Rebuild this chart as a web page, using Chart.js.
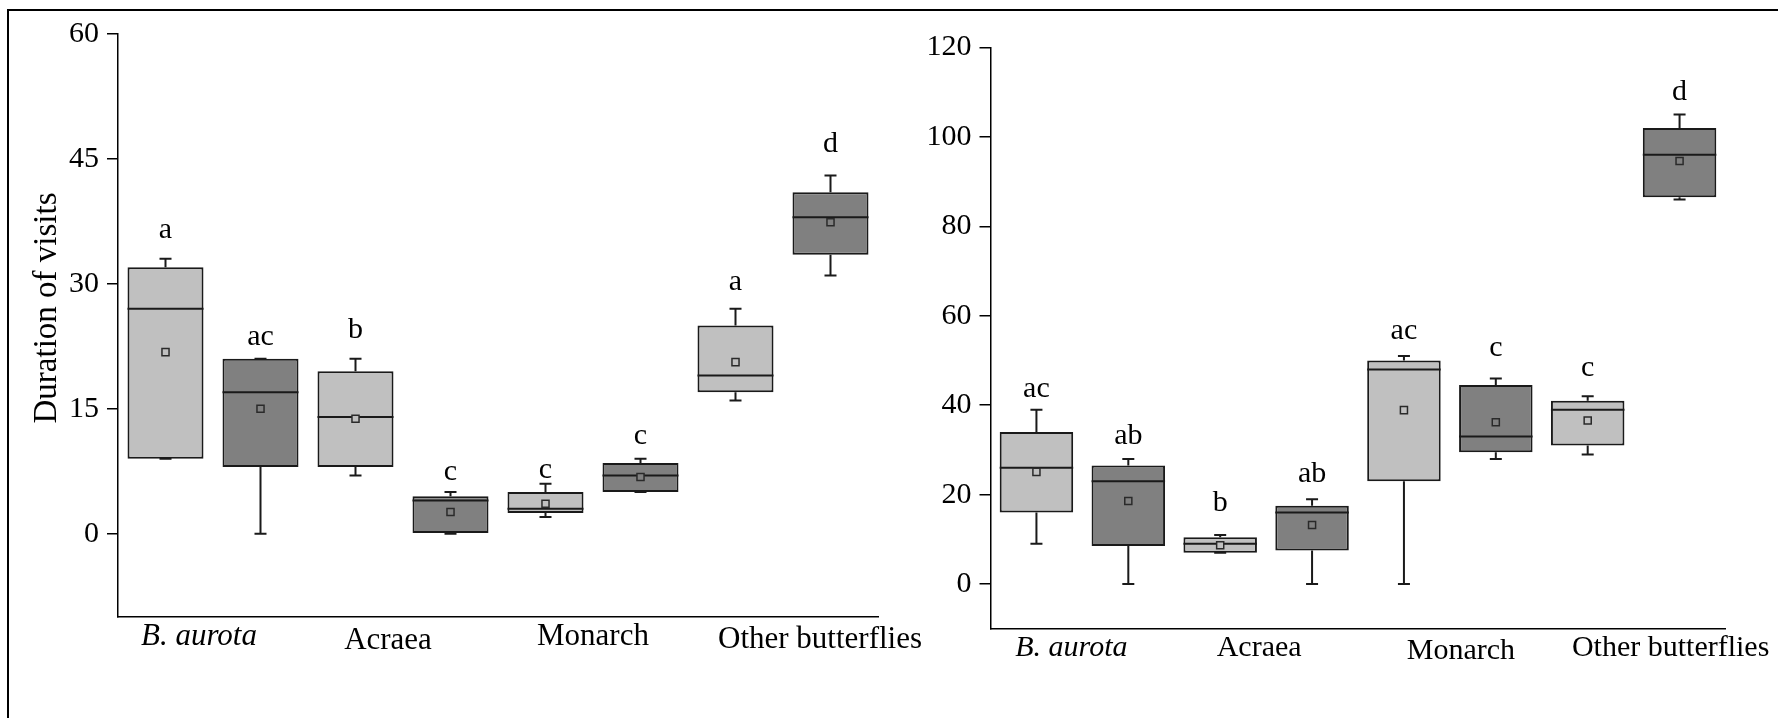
<!DOCTYPE html>
<html>
<head>
<meta charset="utf-8">
<script src="https://cdn.jsdelivr.net/npm/chart.js@4/dist/chart.umd.min.js"></script>
<style>
html, body { margin: 0; padding: 0; background: #fff; }
#wrap { position: relative; width: 1778px; height: 718px; overflow: hidden; background: #fff; }
#frame { position: absolute; left: 7px; top: 9px; width: 1771px; height: 709px; border-left: 2px solid #000; border-top: 2px solid #000; box-sizing: border-box; }
canvas { position: absolute; top: 0; }
</style>
</head>
<body>
<div id="wrap">
  <div id="frame"></div>
  <canvas id="leftChart" width="930" height="718" style="left:0px"></canvas>
  <canvas id="rightChart" width="898" height="718" style="left:880px"></canvas>
</div>
<script>
// ---------- DATA ----------
const categories = ['B. aurota 1', 'B. aurota 2', 'Acraea 1', 'Acraea 2', 'Monarch 1', 'Monarch 2', 'Other butterflies 1', 'Other butterflies 2'];
const groupLabels = ['B. aurota', 'Acraea', 'Monarch', 'Other butterflies'];
const yTitle = 'Duration of visits';

// Left panel
const leftMin    = [9, 0, 7, 0, 2, 5, 16, 31];
const leftQ1     = [9, 8, 8, 0, 2.5, 5, 17, 33.5];
const leftMedian = [27, 17, 14, 4, 3, 7, 19, 38];
const leftQ3     = [32, 21, 19.5, 4.5, 5, 8.5, 25, 41];
const leftMax    = [33, 21, 21, 5, 6, 9, 27, 43];
const leftMean   = [21.8, 15, 13.8, 2.6, 3.6, 6.8, 20.6, 37.4];
const leftLetters = ['a', 'ac', 'b', 'c', 'c', 'c', 'a', 'd'];
const leftTicks  = [0, 15, 30, 45, 60];

// Right panel
const rightMin    = [9, 0, 7, 0, 0, 28, 29, 86];
const rightQ1     = [16, 8.5, 7, 7.5, 23, 29.5, 31, 86.5];
const rightMedian = [26, 23, 9, 16, 48, 33, 39, 96];
const rightQ3     = [34, 26.5, 10.5, 17.5, 50, 44.5, 41, 102];
const rightMax    = [39, 28, 11, 19, 51, 46, 42, 105];
const rightMean   = [25.1, 18.6, 8.7, 13.2, 38.9, 36.2, 36.6, 94.6];
const rightLetters = ['ac', 'ab', 'b', 'ab', 'ac', 'c', 'c', 'd'];
const rightTicks  = [0, 20, 40, 60, 80, 100, 120];

// ---------- STYLE ----------
const LIGHT = '#c0c0c0', DARK = '#808080', INK = '#1a1a1a';
const FONT = "'Liberation Serif', 'Times New Roman', serif";
Chart.defaults.font.family = FONT;
Chart.defaults.font.size = 30;
Chart.defaults.color = '#000';
const colorFor = i => (i % 2 === 0 ? LIGHT : DARK);

const boxPlugin = {
  id: 'boxExtras',
  beforeDatasetsDraw(chart, args, o) {
    const ctx = chart.ctx, y = chart.scales.y;
    const meta = chart.getDatasetMeta(0);
    ctx.save();
    ctx.strokeStyle = INK;
    ctx.lineWidth = 2;
    meta.data.forEach((bar, i) => {
      const x = bar.x;
      const [q1, q3] = chart.data.datasets[0].data[i];
      const pMax = y.getPixelForValue(o.max[i]);
      const pMin = y.getPixelForValue(o.min[i]);
      ctx.beginPath();
      ctx.moveTo(x, y.getPixelForValue(q3)); ctx.lineTo(x, pMax);
      ctx.moveTo(x, y.getPixelForValue(q1)); ctx.lineTo(x, pMin);
      ctx.moveTo(x - 6, pMax); ctx.lineTo(x + 6, pMax);
      ctx.moveTo(x - 6, pMin); ctx.lineTo(x + 6, pMin);
      ctx.stroke();
    });
    ctx.restore();
  },
  afterDatasetDraw(chart, args, o) {
    if (args.index !== 0) return;
    const ctx = chart.ctx, y = chart.scales.y;
    ctx.save();
    ctx.strokeStyle = INK;
    ctx.lineWidth = 2;
    args.meta.data.forEach((bar, i) => {
      const py = y.getPixelForValue(o.median[i]);
      ctx.beginPath();
      ctx.moveTo(bar.x - bar.width / 2, py);
      ctx.lineTo(bar.x + bar.width / 2, py);
      ctx.stroke();
    });
    ctx.restore();
  },
  afterDraw(chart, args, o) {
    const ctx = chart.ctx, y = chart.scales.y, xs = chart.scales.x;
    const meta = chart.getDatasetMeta(0);
    ctx.save();
    ctx.fillStyle = '#000';
    // significance letters
    ctx.font = '30px ' + FONT;
    ctx.textAlign = 'center';
    ctx.textBaseline = 'alphabetic';
    meta.data.forEach((bar, i) => {
      ctx.fillText(o.letters[i], bar.x, y.getPixelForValue(o.max[i]) - o.letterGap[i]);
    });
    // group labels
    groupLabels.forEach((g, k) => {
      const gx = xs.getPixelForValue(2 * k + 0.5) + o.groupNudge[k];
      ctx.font = (k === 0 ? 'italic ' : '') + o.groupSize + 'px ' + FONT;
      ctx.fillText(g, gx, chart.chartArea.bottom + o.groupBase[k]);
    });
    // y title
    if (o.title) {
      ctx.save();
      ctx.translate(o.title.x, o.title.y);
      ctx.rotate(-Math.PI / 2);
      ctx.font = o.title.size + 'px ' + FONT;
      ctx.textAlign = 'center';
      ctx.fillText(yTitle, 0, 0);
      ctx.restore();
    }
    ctx.restore();
  }
};

function buildChart(id, d, st) {
  return new Chart(document.getElementById(id), {
    type: 'bar',
    data: {
      labels: categories,
      datasets: [
        {
          type: 'bar',
          data: d.q1.map((v, i) => [v, d.q3[i]]),
          backgroundColor: categories.map((c, i) => colorFor(i)),
          borderColor: INK,
          borderWidth: 2,
          borderSkipped: false,
          barPercentage: 0.8,
          categoryPercentage: 1,
          order: 1
        },
        {
          type: 'line',
          data: d.mean,
          showLine: false,
          pointStyle: 'rect',
          pointRadius: 5,
          pointHoverRadius: 5,
          pointBorderWidth: 1.5,
          pointBorderColor: '#2a2a2a',
          pointBackgroundColor: categories.map((c, i) => colorFor(i)),
          order: 0
        }
      ]
    },
    options: {
      responsive: false,
      animation: false,
      events: [],
      layout: { padding: st.padding },
      plugins: {
        legend: { display: false },
        tooltip: { enabled: false },
        boxExtras: {
          min: d.min, max: d.max, median: d.median, letters: d.letters,
          letterGap: st.letterGap, groupNudge: st.groupNudge, groupBase: st.groupBase,
          groupSize: st.groupSize, title: st.title
        }
      },
      scales: {
        x: {
          afterFit: s => { s.height = 0; },
          grid: { display: false },
          ticks: { display: false },
          border: { display: true, color: '#000', width: 1.5 }
        },
        y: {
          min: -10,
          max: d.ticks[d.ticks.length - 1],
          afterBuildTicks: s => { s.ticks = d.ticks.map(v => ({ value: v })); },
          afterFit: s => { s.width = st.yWidth; },
          grid: { drawOnChartArea: false, drawTicks: true, tickLength: 11, color: '#000', lineWidth: 1.5 },
          border: { display: true, color: '#000', width: 1.5 },
          ticks: { color: '#000', font: { family: FONT, size: 30 }, padding: 8 }
        }
      }
    },
    plugins: [boxPlugin]
  });
}

buildChart('leftChart',
  { min: leftMin, q1: leftQ1, median: leftMedian, q3: leftQ3, max: leftMax, mean: leftMean, letters: leftLetters, ticks: leftTicks },
  {
    padding: { left: 0, top: 34, right: 52, bottom: 101 },
    yWidth: 118,
    letterGap: [21, 14, 21, 12, 6, 15, 19, 24],
    groupNudge: [-14, -15, 0, 37],
    groupBase: [28, 32, 28, 31],
    groupSize: 31,
    title: { x: 56, y: 308, size: 33 }
  });

buildChart('rightChart',
  { min: rightMin, q1: rightQ1, median: rightMedian, q3: rightQ3, max: rightMax, mean: rightMean, letters: rightLetters, ticks: rightTicks },
  {
    padding: { left: 0, top: 47.5, right: 52.5, bottom: 89.2 },
    yWidth: 110.5,
    letterGap: [13, 15, 24, 17, 17, 22, 20, 15],
    groupNudge: [-11, -7, 11, 37],
    groupBase: [27, 27, 30.5, 27],
    groupSize: 30,
    title: null
  });
</script>
</body>
</html>
